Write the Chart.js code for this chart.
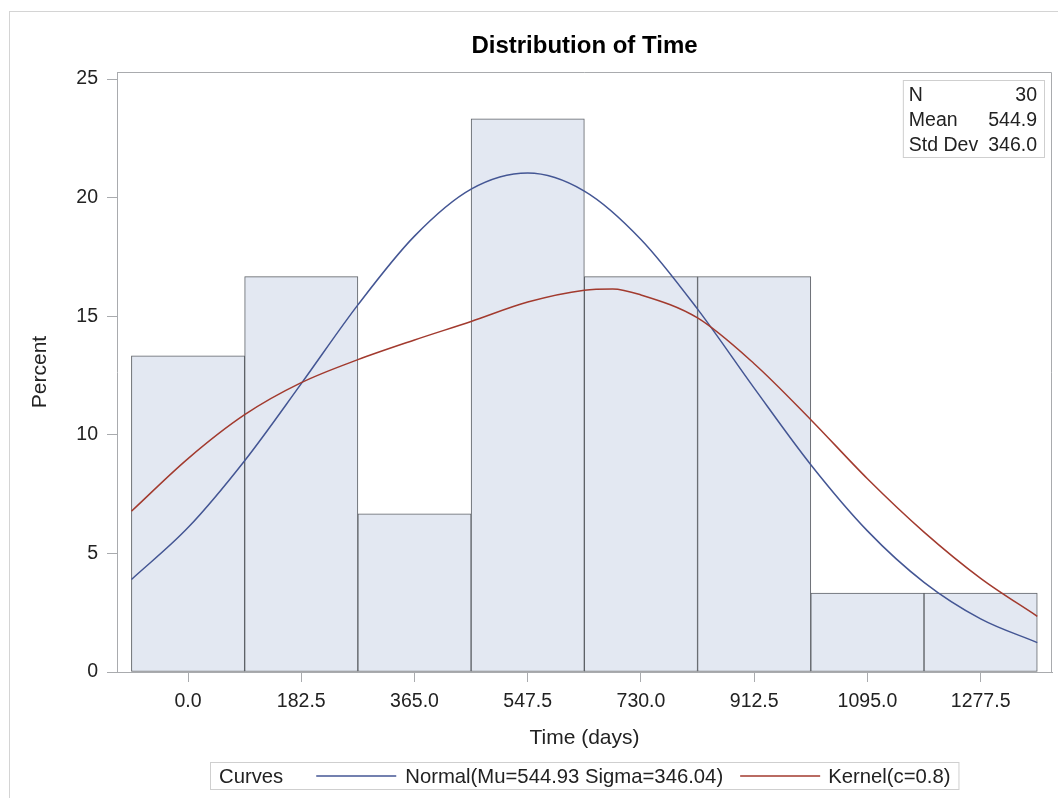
<!DOCTYPE html>
<html><head><meta charset="utf-8">
<script src="https://cdn.jsdelivr.net/npm/chart.js@4.4.1/dist/chart.umd.min.js"></script>
<style>html,body{margin:0;padding:0;background:#fff;}#wrap{width:1058px;height:798px;position:relative;}canvas{display:block;}</style>
</head><body><div id="wrap"><canvas id="c" width="1058" height="798"></canvas></div>
<script>
// ---- data ----
const binMidpoints = [0, 182.5, 365, 547.5, 730, 912.5, 1095, 1277.5];
const binPercents  = [13.33, 16.67, 6.67, 23.33, 16.67, 16.67, 3.33, 3.33];
const normalX = [-91.25, 0, 91.25, 182.5, 273.75, 365, 456.25, 547.5, 638.75, 730, 821.25, 912.5, 1003.75, 1095, 1186.25, 1277.5, 1368.75];
const normalPercents = [3.9, 6.09, 8.91, 12.16, 15.48, 18.38, 20.36, 21.04, 20.28, 18.24, 15.30, 11.97, 8.74, 5.95, 3.78, 2.24, 1.24];
const kernelX = [-91.25, 0, 91.25, 182.5, 273.75, 365, 456.25, 547.5, 638.75, 684.4, 730, 821.25, 912.5, 1003.75, 1095, 1186.25, 1277.5, 1368.75];
const kernelPercents = [6.78, 9.0, 10.85, 12.2, 13.17, 14.0, 14.78, 15.6, 16.1, 16.15, 15.9, 14.93, 13.0, 10.64, 8.15, 5.9, 3.95, 2.35];
const xTickValues = [0, 182.5, 365, 547.5, 730, 912.5, 1095, 1277.5];
const yTickValues = [0, 5, 10, 15, 20, 25];
const statsLabels = ['N', 'Mean', 'Std Dev'];
const statsValues = ['30', '544.9', '346.0'];
const seriesNames = ['Normal(Mu=544.93 Sigma=346.04)', 'Kernel(c=0.8)'];
const legendTitle = 'Curves';
const chartTitle = 'Distribution of Time';
const xTitle = 'Time (days)';
const yTitle = 'Percent';

const FONT = "'Liberation Sans', Arial, sans-serif";
const BLUE = '#445694', RED = '#a23a2e', FRAME = '#a9abae', TEXT = '#222';

const framePlugin = {
  id: 'frame',
  beforeDraw(chart) {
    const ctx = chart.ctx;
    ctx.save();
    ctx.fillStyle = '#fff';
    ctx.fillRect(0, 0, chart.width, chart.height);
    ctx.strokeStyle = '#d4d4d4';
    ctx.lineWidth = 1;
    ctx.strokeRect(9.5, 11.5, chart.width + 20, chart.height + 20);
    ctx.restore();
  },
  afterDraw(chart) {
    const ctx = chart.ctx, a = chart.chartArea;
    ctx.save();
    ctx.strokeStyle = FRAME; ctx.lineWidth = 1;
    ctx.beginPath();
    ctx.moveTo(a.left, a.top + 0.5); ctx.lineTo(a.right - 0.5, a.top + 0.5); ctx.lineTo(a.right - 0.5, a.bottom);
    ctx.stroke();
    // title
    ctx.fillStyle = '#000';
    ctx.font = 'bold 24px ' + FONT;
    ctx.textAlign = 'center'; ctx.textBaseline = 'alphabetic';
    ctx.fillText(chartTitle, (a.left + a.right) / 2, 53);
    // stats inset
    ctx.font = '19.5px ' + FONT;
    const lw = Math.max(...statsLabels.map(s => ctx.measureText(s).width));
    const vw = Math.max(...statsValues.map(s => ctx.measureText(s).width));
    const bw = 6 + lw + 10 + vw + 7, bh = 77;
    const bx = a.right - 8 - bw, by = a.top + 8;
    ctx.fillStyle = '#fff'; ctx.fillRect(bx, by, bw, bh);
    ctx.strokeStyle = '#cfcfcf'; ctx.strokeRect(bx + 0.5, by + 0.5, bw, bh);
    ctx.fillStyle = TEXT;
    statsLabels.forEach((s, i) => {
      ctx.textAlign = 'left'; ctx.fillText(s, bx + 6, by + 21 + i * 25);
      ctx.textAlign = 'right'; ctx.fillText(statsValues[i], bx + bw - 7, by + 21 + i * 25);
    });
    // legend
    ctx.font = '20.3px ' + FONT;
    const cols = [BLUE, RED];
    const tw0 = ctx.measureText(legendTitle).width;
    const tws = seriesNames.map(s => ctx.measureText(s).width);
    const lineLen = 80;
    const total = 9 + tw0 + 33 + lineLen + 9 + tws[0] + 17 + lineLen + 8 + tws[1] + 8;
    const lx = Math.round((a.left + a.right) / 2 - total / 2), ly = chart.height - 36, lh = 27;
    ctx.fillStyle = '#fff'; ctx.fillRect(lx, ly, total, lh);
    ctx.strokeStyle = '#cfcfcf'; ctx.strokeRect(lx + 0.5, ly + 0.5, total, lh);
    ctx.fillStyle = TEXT; ctx.textAlign = 'left';
    const base = ly + 21;
    let x = lx + 9;
    ctx.fillText(legendTitle, x, base); x += tw0 + 33;
    ctx.lineWidth = 1.5;
    [0, 1].forEach(i => {
      ctx.strokeStyle = cols[i];
      ctx.beginPath(); ctx.moveTo(x, ly + 14); ctx.lineTo(x + lineLen, ly + 14); ctx.stroke();
      x += lineLen + (i === 0 ? 9 : 8);
      ctx.fillStyle = TEXT; ctx.fillText(seriesNames[i], x, base);
      x += tws[i] + 17;
    });
    ctx.restore();
  }
};

new Chart(document.getElementById('c'), {
  data: {
    datasets: [
      { type: 'line', label: seriesNames[0], data: normalX.map((x, i) => ({x, y: normalPercents[i]})),
        borderColor: BLUE, borderWidth: 1.5, pointRadius: 0, cubicInterpolationMode: 'monotone', order: 1 },
      { type: 'line', label: seriesNames[1], data: kernelX.map((x, i) => ({x, y: kernelPercents[i]})),
        borderColor: RED, borderWidth: 1.5, pointRadius: 0, cubicInterpolationMode: 'monotone', order: 0 },
      { type: 'bar', label: 'Percent', data: binMidpoints.map((x, i) => ({x, y: binPercents[i]})),
        backgroundColor: '#e3e8f2', borderColor: '#5e6267', borderWidth: 1, borderSkipped: false,
        barPercentage: 1, categoryPercentage: 1, order: 2 }
    ]
  },
  options: {
    responsive: false, animation: false, devicePixelRatio: 1,
    layout: { padding: { top: 72, right: 6, bottom: 46, left: 0 } },
    plugins: { legend: { display: false }, title: { display: false }, tooltip: { enabled: false } },
    scales: {
      x: {
        type: 'linear', min: -114.5, max: 1392.5, offset: false,
        afterFit(s) { s.height = 80; },
        afterBuildTicks(s) { s.ticks = xTickValues.map(v => ({value: v})); },
        ticks: { callback: v => Number(v).toFixed(1), color: TEXT, font: { family: FONT, size: 19.5 }, padding: 8, maxRotation: 0, autoSkip: false },
        grid: { display: true, offset: false, drawOnChartArea: false, drawTicks: true, tickLength: 10, color: FRAME, tickColor: FRAME },
        border: { display: true, color: FRAME },
        title: { display: true, text: xTitle, color: TEXT, font: { family: FONT, size: 21 }, padding: { top: 0, bottom: 1 } }
      },
      y: {
        type: 'linear', min: 0, max: 25.3,
        afterFit(s) { s.width = 117; },
        afterBuildTicks(s) { s.ticks = yTickValues.map(v => ({value: v})); },
        ticks: { color: TEXT, font: { family: FONT, size: 19.5 }, padding: 9 },
        grid: { display: true, offset: false, drawOnChartArea: false, drawTicks: true, tickLength: 10, color: FRAME, tickColor: FRAME },
        border: { display: true, color: FRAME },
        title: { display: true, text: yTitle, color: TEXT, font: { family: FONT, size: 21 }, padding: { top: 28, bottom: 0 } }
      }
    }
  },
  plugins: [framePlugin]
});
</script></body></html>
